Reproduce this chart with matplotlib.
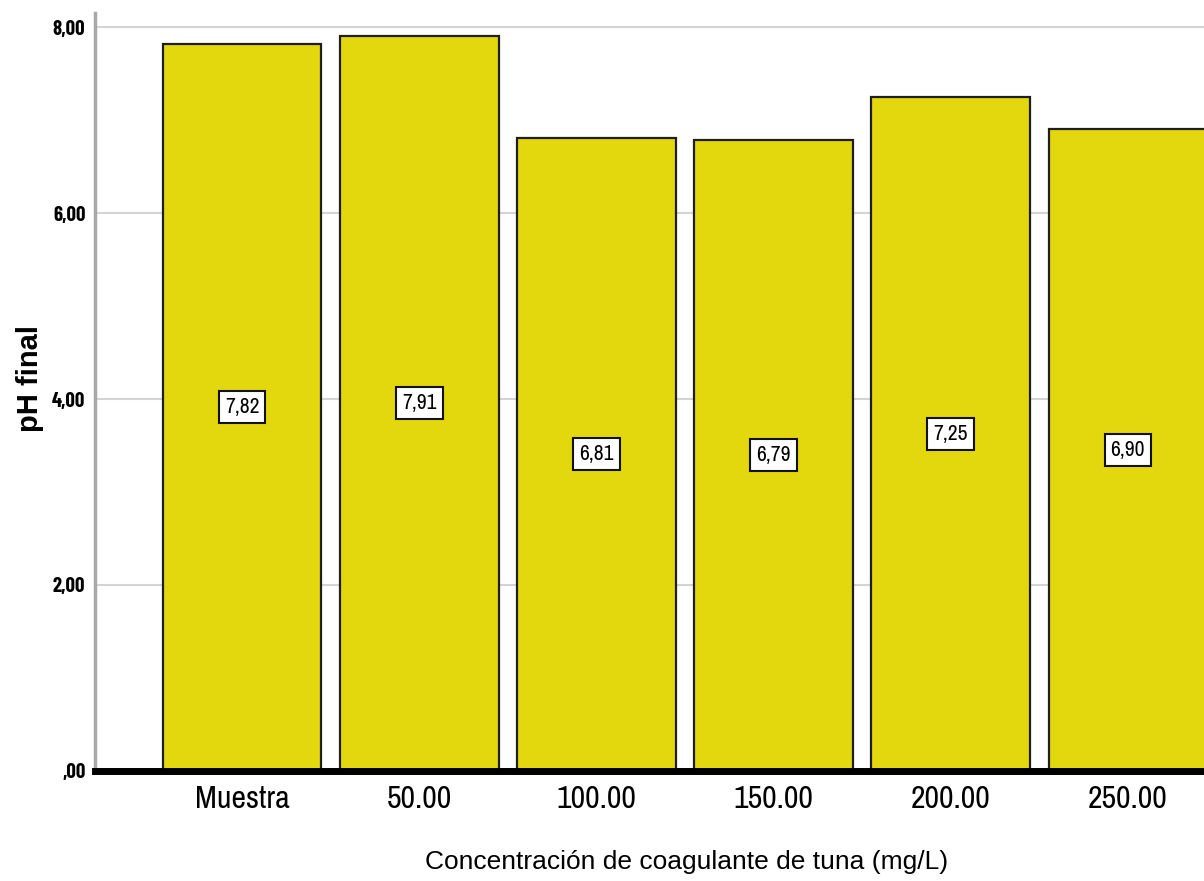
import matplotlib.pyplot as plt

categorias = ['Muestra', '50.00', '100.00', '150.00', '200.00', '250.00']
ph_final = [7.82, 7.91, 6.81, 6.79, 7.25, 6.90]
etiquetas = ['7,82', '7,91', '6,81', '6,79', '7,25', '6,90']
yticks = [0, 2, 4, 6, 8]
ytick_labels = [',00', '2,00', '4,00', '6,00', '8,00']

narrow = ['Liberation Sans Narrow', 'Archivo Narrow', 'DejaVu Sans']
narrow_bold = ['Barlow Condensed', 'DejaVu Sans']
arial = ['Liberation Sans', 'DejaVu Sans']

fig = plt.figure(figsize=(12.04, 8.81), dpi=100)
ax = fig.add_axes([0.079, 0.125, 0.921, 0.86])

x = range(len(categorias))
ax.bar(x, ph_final, width=0.895, color='#E3D70E', edgecolor='#1E1E1E', linewidth=1.6, zorder=3)

for i, (v, t) in enumerate(zip(ph_final, etiquetas)):
    ax.text(i, v / 2, t, ha='center', va='center', fontsize=15.5, family=narrow, zorder=4,
            bbox=dict(boxstyle='square,pad=0.28', facecolor='white', edgecolor='#111111', linewidth=1.5))

ax.set_xlim(-0.83, 5.43)
ax.set_ylim(0, 8.15)
ax.set_yticks(yticks)
ax.set_yticklabels(ytick_labels, fontsize=15, fontweight='bold', family=narrow_bold)
ax.set_xticks(list(x))
ax.set_xticklabels(categorias, fontsize=23, family=narrow)
ax.tick_params(axis='both', length=0)
ax.tick_params(axis='y', pad=7)
ax.tick_params(axis='x', pad=10)

ax.grid(axis='y', color='#D4D4D4', linewidth=1.5, zorder=0)
for s in ['top', 'right']:
    ax.spines[s].set_visible(False)
ax.spines['left'].set_color('#A8A8A8')
ax.spines['left'].set_linewidth(2.5)
ax.spines['bottom'].set_color('black')
ax.spines['bottom'].set_linewidth(5)
ax.spines['bottom'].set_zorder(5)

ax.set_ylabel('pH final', fontsize=21, fontweight='bold', family=arial, va='center')
ax.yaxis.set_label_coords(-0.059, 0.518)
ax.set_xlabel('Concentración de coagulante de tuna (mg/L)', fontsize=19, family=arial, va='center')
ax.xaxis.set_label_coords(0.533, -0.12)

fig.savefig('out.png', dpi=100)
